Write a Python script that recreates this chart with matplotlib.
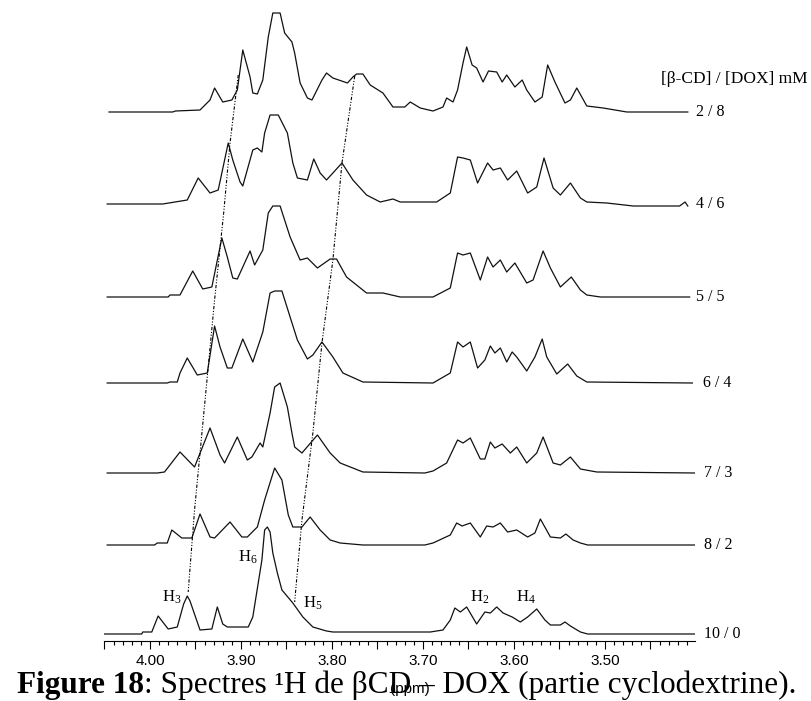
import numpy as np
import matplotlib.pyplot as plt
from matplotlib.ticker import MultipleLocator, FuncFormatter

plt.rcParams['font.family'] = 'Liberation Serif'
plt.rcParams['mathtext.fontset'] = 'custom'
plt.rcParams['mathtext.rm'] = 'Liberation Serif'
plt.rcParams['mathtext.it'] = 'Liberation Serif:italic'

# ---- spectra (ppm, intensity above own baseline) ----
ppm_10_0 = [4.052, 4.009, 4.008, 3.998, 3.991, 3.980, 3.970, 3.963, 3.959, 3.956,
            3.945, 3.932, 3.926, 3.920, 3.915, 3.892, 3.887, 3.877, 3.874, 3.871,
            3.868, 3.865, 3.860, 3.855, 3.843, 3.832, 3.821, 3.806, 3.799, 3.692,
            3.678, 3.670, 3.665, 3.659, 3.652, 3.641, 3.632, 3.626, 3.619, 3.612,
            3.602, 3.593, 3.585, 3.575, 3.566, 3.560, 3.549, 3.544, 3.538, 3.527,
            3.519, 3.401]
int_10_0 = [0, 0, 2, 2, 18, 5, 7, 30, 38, 33,
            4, 5, 27, 10, 7, 7, 17, 74, 104, 107,
            102, 81, 61, 44, 31, 17, 7, 3, 2, 2,
            4, 14, 26, 22, 27, 10, 22, 21, 27, 21,
            17, 12, 17, 25, 14, 9, 9, 12, 8, 2,
            0, 0]

ppm_8_2 = [4.047, 3.995, 3.992, 3.981, 3.976, 3.965, 3.954, 3.945, 3.934, 3.929,
           3.912, 3.899, 3.893, 3.882, 3.874, 3.863, 3.855, 3.848, 3.843, 3.833,
           3.824, 3.813, 3.802, 3.791, 3.766, 3.698, 3.689, 3.670, 3.663, 3.657,
           3.648, 3.637, 3.630, 3.623, 3.615, 3.607, 3.597, 3.585, 3.577, 3.571,
           3.560, 3.549, 3.543, 3.535, 3.527, 3.519, 3.401]
int_8_2 = [0, 0, 2, 2, 15, 7, 7, 31, 8, 7,
           23, 8, 8, 18, 45, 77, 65, 30, 18, 18,
           28, 15, 5, 2, 0, 0, 2, 10, 22, 19,
           22, 8, 19, 18, 22, 13, 15, 8, 12, 26,
           8, 7, 11, 5, 2, 0, 0]

ppm_7_3 = [4.047, 3.992, 3.984, 3.967, 3.951, 3.934, 3.923, 3.918, 3.904, 3.893,
           3.888, 3.879, 3.876, 3.868, 3.863, 3.857, 3.849, 3.844, 3.841, 3.833,
           3.816, 3.802, 3.791, 3.766, 3.698, 3.689, 3.674, 3.662, 3.656, 3.648,
           3.637, 3.632, 3.626, 3.621, 3.613, 3.604, 3.597, 3.586, 3.575, 3.568,
           3.557, 3.549, 3.538, 3.527, 3.509, 3.401]
int_7_3 = [0, 0, 1, 21, 6, 45, 18, 10, 36, 13,
           16, 30, 26, 60, 86, 90, 66, 40, 26, 20,
           38, 20, 10, 1, 0, 2, 10, 33, 30, 35,
           14, 14, 31, 25, 29, 20, 26, 10, 20, 36,
           10, 8, 16, 4, 1, 0]

ppm_6_4 = [4.047, 3.981, 3.978, 3.970, 3.967, 3.959, 3.948, 3.937, 3.929, 3.923,
           3.915, 3.910, 3.898, 3.887, 3.876, 3.868, 3.863, 3.855, 3.846, 3.838,
           3.827, 3.821, 3.811, 3.799, 3.788, 3.766, 3.689, 3.670, 3.662, 3.656,
           3.648, 3.640, 3.632, 3.626, 3.621, 3.615, 3.608, 3.602, 3.597, 3.586,
           3.577, 3.569, 3.564, 3.553, 3.541, 3.531, 3.520, 3.404]
int_6_4 = [0, 0, 1, 1, 10, 25, 8, 10, 57, 36,
           15, 15, 44, 21, 51, 90, 92, 92, 66, 43,
           24, 28, 41, 26, 10, 1, 0, 10, 41, 36,
           41, 15, 23, 37, 30, 35, 21, 31, 26, 12,
           26, 44, 26, 9, 19, 7, 1, 0]

ppm_5_5 = [4.047, 3.980, 3.978, 3.967, 3.953, 3.942, 3.932, 3.921, 3.915, 3.909,
           3.904, 3.890, 3.885, 3.876, 3.870, 3.865, 3.857, 3.846, 3.835, 3.827,
           3.816, 3.802, 3.795, 3.784, 3.762, 3.744, 3.725, 3.689, 3.670, 3.662,
           3.656, 3.648, 3.637, 3.629, 3.623, 3.615, 3.608, 3.599, 3.586, 3.579,
           3.568, 3.560, 3.549, 3.537, 3.527, 3.520, 3.505, 3.407]
int_5_5 = [0, 0, 2, 2, 26, 8, 10, 59, 40, 19,
           18, 46, 32, 47, 84, 91, 91, 60, 37, 39,
           29, 38, 38, 20, 4, 4, 0, 0, 9, 44,
           42, 44, 17, 40, 30, 37, 25, 34, 14, 17,
           46, 29, 10, 20, 7, 2, 0, 0]

ppm_4_6 = [4.047, 3.986, 3.959, 3.947, 3.934, 3.925, 3.914, 3.909, 3.901, 3.898,
           3.887, 3.882, 3.877, 3.874, 3.868, 3.859, 3.849, 3.843, 3.838, 3.827,
           3.820, 3.813, 3.806, 3.789, 3.777, 3.762, 3.747, 3.733, 3.725, 3.685,
           3.670, 3.662, 3.656, 3.648, 3.640, 3.629, 3.623, 3.615, 3.607, 3.597,
           3.585, 3.575, 3.567, 3.557, 3.549, 3.538, 3.527, 3.520, 3.498, 3.469,
           3.418, 3.412, 3.409]
int_4_6 = [0, 0, 4, 26, 11, 14, 61, 44, 22, 18,
           54, 56, 52, 71, 89, 89, 71, 41, 26, 24,
           45, 31, 24, 41, 24, 9, 2, 5, 2, 2,
           11, 47, 46, 44, 21, 41, 34, 36, 24, 33,
           11, 17, 46, 16, 9, 21, 6, 2, 1, -2,
           -2, 2, -2]

ppm_2_8 = [4.045, 3.975, 3.972, 3.945, 3.934, 3.929, 3.920, 3.910, 3.904, 3.898,
           3.890, 3.887, 3.882, 3.876, 3.870, 3.865, 3.857, 3.852, 3.844, 3.841,
           3.835, 3.827, 3.822, 3.811, 3.806, 3.799, 3.783, 3.777, 3.773, 3.766,
           3.758, 3.744, 3.733, 3.720, 3.714, 3.703, 3.689, 3.678, 3.674, 3.667,
           3.662, 3.656, 3.652, 3.646, 3.641, 3.634, 3.628, 3.619, 3.613, 3.608,
           3.599, 3.591, 3.586, 3.577, 3.569, 3.563, 3.555, 3.544, 3.538, 3.531,
           3.520, 3.502, 3.476, 3.409]
int_2_8 = [0, 0, 1, 2, 12, 24, 10, 12, 22, 62,
           35, 19, 18, 32, 75, 99, 99, 79, 70, 59,
           29, 14, 12, 32, 39, 34, 29, 35, 38, 38,
           27, 19, 5, 5, 10, 4, 1, 5, 14, 10,
           22, 49, 65, 47, 44, 30, 41, 40, 30, 37,
           25, 32, 22, 10, 15, 47, 30, 9, 12, 24,
           6, 4, 0, 0]

ratio_labels = ['2 / 8', '4 / 6', '5 / 5', '6 / 4', '7 / 3', '8 / 2', '10 / 0']
offsets = [529, 437, 344, 258, 168, 96, 7]
label_ppm = [3.400, 3.400, 3.400, 3.392, 3.391, 3.391, 3.391]

# dash-dot guides following H3 and H5 through the series
h3_ppm = [3.903, 3.912, 3.919, 3.929, 3.941, 3.951, 3.958]
h3_y = [566, 498, 428, 341, 226, 131, 49]
h5_ppm = [3.775, 3.789, 3.799, 3.811, 3.821, 3.833, 3.841]
h5_y = [565, 478, 381, 298, 208, 121, 39]

peak_names = ['3', '6', '5', '2', '4']
peak_ppm = [3.987, 3.903, 3.832, 3.648, 3.598]
peak_y = [39, 79, 33, 39, 39]

spectra = [(ppm_2_8, int_2_8), (ppm_4_6, int_4_6), (ppm_5_5, int_5_5),
           (ppm_6_4, int_6_4), (ppm_7_3, int_7_3), (ppm_8_2, int_8_2),
           (ppm_10_0, int_10_0)]

fig = plt.figure(figsize=(8.11, 7.01), dpi=100)
ax = fig.add_axes([104/811, 60/701, 591/811, 641/701])

for (x, y), off in zip(spectra, offsets):
    ax.plot(x, np.array(y) + off, color='#111111', lw=0.9)

ax.plot(h3_ppm, h3_y, color='k', lw=0.8, ls=(0, (3, 1.5, 1, 1.5, 1, 1.5)))
ax.plot(h5_ppm, h5_y, color='k', lw=0.8, ls=(0, (3, 1.5, 1, 1.5, 1, 1.5)))

for name, px, py in zip(peak_names, peak_ppm, peak_y):
    ax.text(px, py, 'H$_{' + name + '}$', fontsize=12, va='baseline', ha='left')

for lab, px, off in zip(ratio_labels, label_ppm, offsets):
    ax.text(px, off, lab, fontsize=11.5, va='center', ha='left', clip_on=False)
ax.text(3.438, 562, '[\u03b2-CD] / [DOX] mM', fontsize=12.5, va='center',
        ha='left', clip_on=False)

ax.set_xlim(4.0505, 3.4011)
ax.set_ylim(0, 641)
for s in ['left', 'right', 'top']:
    ax.spines[s].set_visible(False)
ax.spines['bottom'].set_linewidth(0.8)
ax.set_yticks([])


def fmt(v, pos):
    if abs(v * 10 - round(v * 10)) < 1e-6 and 3.49 < v < 4.01:
        return f'{v:.2f}'
    return ''


ax.xaxis.set_major_locator(MultipleLocator(0.05))
ax.xaxis.set_minor_locator(MultipleLocator(0.01))
ax.xaxis.set_major_formatter(FuncFormatter(fmt))
ax.tick_params(axis='x', which='major', length=5.5, width=0.8, pad=4,
               labelsize=11, labelfontfamily='Liberation Sans')
ax.tick_params(axis='x', which='minor', length=3, width=0.8)
ax.set_xlabel('(ppm)', fontsize=11, family='Liberation Sans')
ax.xaxis.set_label_coords(0.518, -0.064)

# caption
t1 = fig.text(17/811, 8/701, 'Figure 18', fontsize=22.5, weight='bold',
              va='baseline', ha='left')
fig.canvas.draw()
bb = t1.get_window_extent()
fig.text(bb.x1 / fig.bbox.width, 8/701,
         ': Spectres \u00b9H de \u03b2CD \u2013 DOX (partie cyclodextrine).',
         fontsize=22.5, va='baseline', ha='left')

plt.savefig('out.png', dpi=100)
